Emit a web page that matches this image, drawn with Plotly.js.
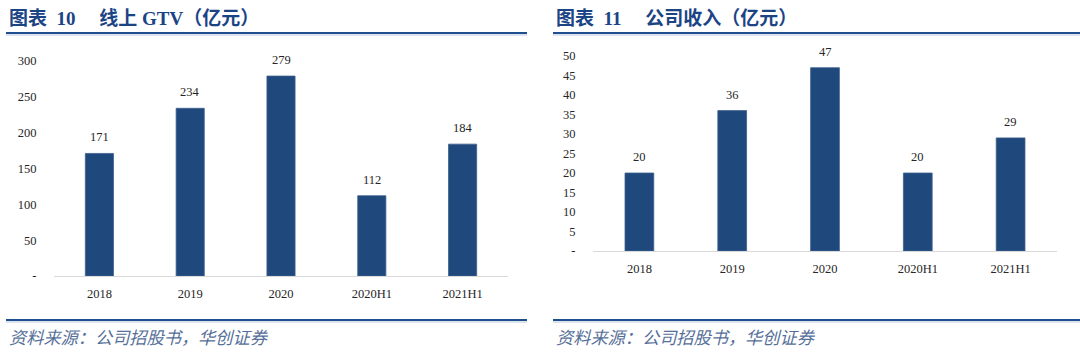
<!DOCTYPE html>
<html>
<head>
<meta charset="utf-8">
<script src="https://cdn.plot.ly/plotly-3.0.1.min.js"></script>
<style>
html,body{margin:0;padding:0;background:#fff;}
#chart{width:1080px;height:352px;}
</style>
</head>
<body>
<div id="chart"></div>
<script>
const categories = ['2018', '2019', '2020', '2020H1', '2021H1'];
const gtvValues = [171, 234, 279, 112, 184];
const revenueValues = [20, 36, 47, 20, 29];
const gtvTicks = [0, 50, 100, 150, 200, 250, 300];
const gtvTickText = ['-', '50', '100', '150', '200', '250', '300'];
const revTicks = [0, 5, 10, 15, 20, 25, 30, 35, 40, 45, 50];
const revTickText = ['-', '5', '10', '15', '20', '25', '30', '35', '40', '45', '50'];
const title1 = '图表&nbsp;&nbsp;10&nbsp;&nbsp;&nbsp;&nbsp;&nbsp;线上 GTV（亿元）';
const title2 = '图表&nbsp;&nbsp;11&nbsp;&nbsp;&nbsp;&nbsp;&nbsp;公司收入（亿元）';
const sourceText = '资料来源：公司招股书，华创证券';

const W = 1080, H = 352;
const px = x => x / W;
const py = y => (H - y) / H;

const barColor = '#1F497D';
const titleColor = '#1B4485';
const serif = '"Liberation Serif", "Times New Roman", "Noto Sans CJK SC", serif';
const tickFont = {family: serif, size: 12.5, color: '#262626'};

const traces = [
  {type: 'bar', x: categories, y: gtvValues, xaxis: 'x', yaxis: 'y',
   marker: {color: barColor, line: {color: '#3d5f8d', width: 0.8}}, width: 0.31, hoverinfo: 'none'},
  {type: 'bar', x: categories, y: revenueValues, xaxis: 'x2', yaxis: 'y2',
   marker: {color: barColor, line: {color: '#3d5f8d', width: 0.8}}, width: 0.31, hoverinfo: 'none'}
];

const annotations = [];
categories.forEach((c, i) => {
  annotations.push({xref: 'x', yref: 'y', x: i, y: gtvValues[i], text: String(gtvValues[i]),
    showarrow: false, yanchor: 'bottom', yshift: 7, font: tickFont});
  annotations.push({xref: 'x2', yref: 'y2', x: i, y: revenueValues[i], text: String(revenueValues[i]),
    showarrow: false, yanchor: 'bottom', yshift: 7, font: tickFont});
});
const titleFont = {family: '"Liberation Serif", "Noto Sans CJK SC", serif', size: 19, color: titleColor, weight: 'bold'};
annotations.push({xref: 'paper', yref: 'paper', x: px(7), y: py(18), xanchor: 'left', yanchor: 'middle',
  text: '<b>' + title1 + '</b>', showarrow: false, font: titleFont});
annotations.push({xref: 'paper', yref: 'paper', x: px(554), y: py(18), xanchor: 'left', yanchor: 'middle',
  text: '<b>' + title2 + '</b>', showarrow: false, font: titleFont});
const srcFont = {family: '"Noto Sans CJK SC", sans-serif', size: 17.2, color: '#566F99', style: 'italic'};
annotations.push({xref: 'paper', yref: 'paper', x: px(7), y: py(336), xanchor: 'left', yanchor: 'middle',
  text: '<i>' + sourceText + '</i>', showarrow: false, font: srcFont});
annotations.push({xref: 'paper', yref: 'paper', x: px(554), y: py(336), xanchor: 'left', yanchor: 'middle',
  text: '<i>' + sourceText + '</i>', showarrow: false, font: srcFont});

function hline(x0, x1, y, color, w) {
  return {type: 'line', xref: 'paper', yref: 'paper', x0: px(x0), x1: px(x1), y0: py(y), y1: py(y),
    line: {color: color, width: w}};
}
const shapes = [
  hline(6, 527, 33, '#1F4E8F', 2), hline(6, 527, 35, '#B8C7DD', 1),
  hline(553, 1080, 33, '#1F4E8F', 2), hline(553, 1080, 35, '#B8C7DD', 1),
  hline(6, 527, 320, '#1F4E8F', 2), hline(6, 527, 322, '#B8C7DD', 1),
  hline(553, 1080, 320, '#1F4E8F', 2), hline(553, 1080, 322, '#B8C7DD', 1)
];

const xbase = {type: 'category', range: [-0.5, categories.length - 0.5], autorange: false,
  showgrid: false, zeroline: false, showline: true, linecolor: '#D9D9D9',
  linewidth: 1, ticks: 'outside', ticklen: 6, tickcolor: 'rgba(0,0,0,0)', tickfont: tickFont, fixedrange: true};
const ybase = {showgrid: false, zeroline: false, showline: false, ticks: 'outside', ticklen: 14,
  tickcolor: 'rgba(0,0,0,0)', tickfont: tickFont, fixedrange: true, autorange: false};

const layout = {
  width: W, height: H, margin: {l: 0, r: 0, t: 0, b: 0},
  paper_bgcolor: '#ffffff', plot_bgcolor: '#ffffff', showlegend: false,
  xaxis: Object.assign({}, xbase, {domain: [px(54), px(508)], anchor: 'y'}),
  yaxis: Object.assign({}, ybase, {domain: [py(276), py(61)], range: [0, 300], anchor: 'x',
    tickvals: gtvTicks, ticktext: gtvTickText}),
  xaxis2: Object.assign({}, xbase, {domain: [px(593), px(1057)], anchor: 'y2'}),
  yaxis2: Object.assign({}, ybase, {domain: [py(251), py(56)], range: [0, 50], anchor: 'x2',
    tickvals: revTicks, ticktext: revTickText}),
  annotations: annotations, shapes: shapes
};

Plotly.newPlot('chart', traces, layout, {displayModeBar: false, staticPlot: true});
</script>
</body>
</html>
